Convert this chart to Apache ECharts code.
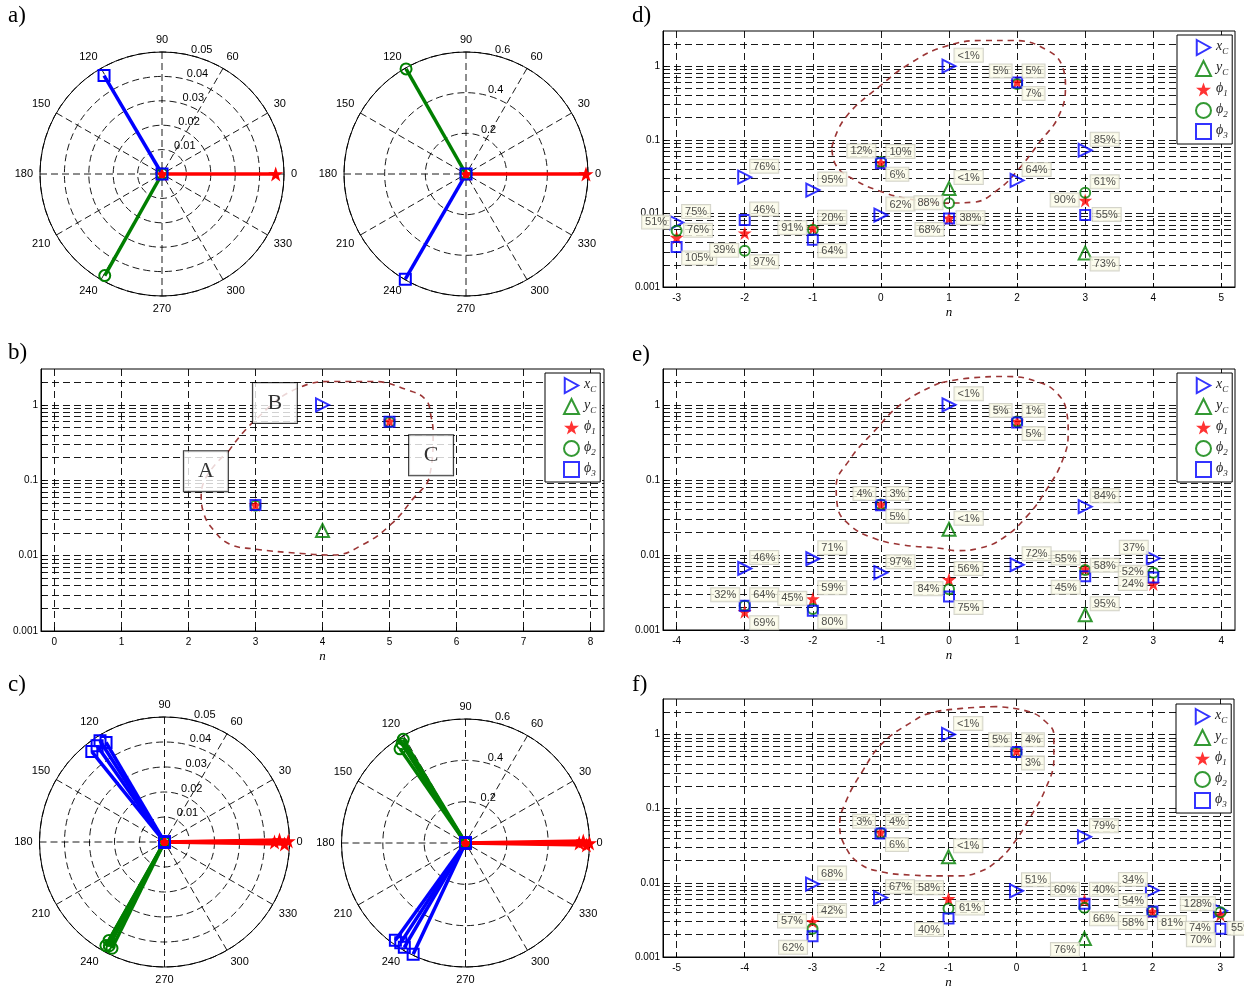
<!DOCTYPE html>
<html lang="en">
<head>
<meta charset="UTF-8">
<title>Phase loci and harmonic ratios</title>
<script src="https://cdn.jsdelivr.net/npm/echarts@6.0.0/dist/echarts.min.js"></script>
<style>
  body { margin: 0; padding: 0; background-color: #ffffff; }
</style>
</head>
<body>
<div id="chart" style="width: 1244px; height: 992px;"></div>
<script>
// polar panels a) and c): [magnitude, angle in degrees]
var aLeftPhi1 = [[0.0466, 0]];
var aLeftPhi2 = [[0.0478, 240.6]];
var aLeftPhi3 = [[0.0468, 120.5]];
var aRightPhi1 = [[0.59, 0]];
var aRightPhi2 = [[0.595, 119.7]];
var aRightPhi3 = [[0.597, 240]];
var cLeftPhi1 = [[0.044, 0], [0.046, 1], [0.048, 359], [0.0495, 0.5]];
var cLeftPhi2 = [[0.0476, 240.5], [0.0474, 243.7], [0.0452, 240.6], [0.047, 242]];
var cLeftPhi3 = [[0.0464, 128.8], [0.048, 122.5], [0.0462, 120.4], [0.047, 125]];
var cRightPhi1 = [[0.55, 0], [0.57, 1], [0.585, 359], [0.6, 0]];
var cRightPhi2 = [[0.6, 122.5], [0.57, 122.6], [0.555, 124.8], [0.585, 121]];
var cRightPhi3 = [[0.58, 234.2], [0.585, 239.6], [0.595, 244.8], [0.575, 237]];

// harmonic panels: n and magnitude per quantity (null = not plotted)
var nB = [3, 4, 5];
var bXC = [null, 1.0, null];
var bYC = [null, 0.0216, null];
var bPhi1 = [0.047, null, 0.61];
var bPhi2 = [0.046, null, 0.59];
var bPhi3 = [0.047, null, 0.6];

var nD = [-3, -2, -1, 0, 1, 2, 3];
var dXC = [0.0075, 0.031, 0.0207, 0.0095, 1.0, 0.028, 0.072];
var dYC = [null, null, null, null, 0.0218, null, 0.0029];
var dPhi1 = [0.0047, 0.0054, 0.0063, 0.049, 0.0086, 0.61, 0.015];
var dPhi2 = [0.0058, 0.0031, 0.006, 0.05, 0.0137, 0.57, 0.019];
var dPhi3 = [0.0035, 0.0081, 0.0044, 0.048, 0.0085, 0.6, 0.0095];

var nE = [-3, -2, -1, 0, 1, 2, 3];
var eXC = [0.0066, 0.0089, 0.0058, 1.0, 0.0074, 0.044, 0.009];
var eYC = [null, null, null, 0.022, null, 0.0016, null];
var ePhi1 = [0.00175, 0.0026, 0.047, 0.0047, 0.6, 0.0065, 0.0041];
var ePhi2 = [0.0021, 0.0019, 0.047, 0.0035, 0.6, 0.0063, 0.0058];
var ePhi3 = [0.0021, 0.0018, 0.046, 0.0028, 0.58, 0.0052, 0.005];

var nF = [-3, -2, -1, 0, 1, 2, 3];
var fXC = [0.0096, 0.0063, 1.0, 0.0078, 0.0416, 0.0079, 0.0042];
var fYC = [null, null, 0.0224, null, 0.00177, null, null];
var fPhi1 = [0.003, 0.048, 0.0061, 0.6, 0.0058, 0.0041, 0.0037];
var fPhi2 = [0.0024, 0.047, 0.0045, 0.57, 0.0046, 0.0041, 0.004];
var fPhi3 = [0.0019, 0.046, 0.0033, 0.58, 0.0052, 0.0041, 0.0024];

// percentage tags: [n, quantity the tag sits next to, text, side]
var dNotes = [
  [-3, 'xC', '75%', 'ne'], [-3, 'xC', '51%', 'w'], [-3, 'phi2', '76%', 'e'], [-3, 'phi3', '105%', 'se'],
  [-2, 'xC', '76%', 'ne'], [-2, 'phi3', '46%', 'ne'], [-2, 'phi2', '39%', 'w'], [-2, 'phi2', '97%', 'se'],
  [-1, 'xC', '95%', 'ne'], [-1, 'phi1', '20%', 'ne'], [-1, 'phi1', '91%', 'w'], [-1, 'phi3', '64%', 'se'],
  [0, 'phi2', '12%', 'nw'], [0, 'phi1', '10%', 'ne'], [0, 'phi3', '6%', 'se'], [0, 'xC', '62%', 'ne'],
  [1, 'xC', '<1%', 'ne'], [1, 'yC', '<1%', 'ne'], [1, 'phi2', '88%', 'w'], [1, 'phi1', '38%', 'e'], [1, 'phi3', '68%', 'sw'],
  [2, 'phi1', '5%', 'nw'], [2, 'phi1', '5%', 'ne'], [2, 'phi3', '7%', 'se'], [2, 'xC', '64%', 'ne'],
  [3, 'xC', '85%', 'ne'], [3, 'phi2', '61%', 'ne'], [3, 'phi1', '90%', 'w'], [3, 'phi3', '55%', 'e'], [3, 'yC', '73%', 'se']
];
var eNotes = [
  [-3, 'xC', '46%', 'ne'], [-3, 'phi2', '32%', 'nw'], [-3, 'phi3', '64%', 'ne'], [-3, 'phi1', '69%', 'se'],
  [-2, 'xC', '71%', 'ne'], [-2, 'phi1', '59%', 'ne'], [-2, 'phi1', '45%', 'w'], [-2, 'phi3', '80%', 'se'],
  [-1, 'phi1', '4%', 'nw'], [-1, 'phi1', '3%', 'ne'], [-1, 'phi3', '5%', 'se'], [-1, 'xC', '97%', 'ne'],
  [0, 'xC', '<1%', 'ne'], [0, 'yC', '<1%', 'ne'], [0, 'phi1', '56%', 'ne'], [0, 'phi2', '84%', 'w'], [0, 'phi3', '75%', 'se'],
  [1, 'xC', '72%', 'ne'], [1, 'phi1', '5%', 'nw'], [1, 'phi1', '1%', 'ne'], [1, 'phi3', '5%', 'se'],
  [2, 'xC', '84%', 'ne'], [2, 'yC', '95%', 'ne'], [2, 'phi1', '55%', 'nw'], [2, 'phi3', '58%', 'ne'], [2, 'phi3', '45%', 'sw'],
  [3, 'xC', '37%', 'nw'], [3, 'phi2', '52%', 'w'], [3, 'phi1', '24%', 'w']
];
var fNotes = [
  [-3, 'xC', '68%', 'ne'], [-3, 'phi1', '57%', 'w'], [-3, 'phi1', '42%', 'ne'], [-3, 'phi3', '62%', 'sw'],
  [-2, 'phi1', '3%', 'nw'], [-2, 'phi1', '4%', 'ne'], [-2, 'phi3', '6%', 'se'], [-2, 'xC', '67%', 'ne'],
  [-1, 'xC', '<1%', 'ne'], [-1, 'yC', '<1%', 'ne'], [-1, 'phi1', '58%', 'nw'], [-1, 'phi2', '61%', 'e'], [-1, 'phi3', '40%', 'sw'],
  [0, 'phi1', '5%', 'nw'], [0, 'phi1', '4%', 'ne'], [0, 'phi3', '3%', 'se'], [0, 'xC', '51%', 'ne'],
  [1, 'xC', '79%', 'ne'], [1, 'phi1', '60%', 'nw'], [1, 'phi1', '40%', 'ne'], [1, 'phi2', '66%', 'se'], [1, 'yC', '76%', 'sw'],
  [2, 'xC', '34%', 'nw'], [2, 'phi1', '54%', 'nw'], [2, 'phi3', '58%', 'sw'], [2, 'phi3', '81%', 'se'],
  [3, 'phi1', '128%', 'nw'], [3, 'phi3', '74%', 'w'], [3, 'phi3', '70%', 'sw'], [3, 'phi3', '55%', 'e']
];

// hand-drawn dashed loops, [n, magnitude]
var bLoop = [[2.60, 0.244], [2.97, 0.599], [3.63, 1.67], [4.21, 2.05], [4.74, 2.05], [5.27, 1.58], [5.54, 1.17],
  [5.62, 0.70], [5.65, 0.42], [5.60, 0.117], [5.33, 0.054], [5.03, 0.0265], [4.62, 0.0143], [4.15, 0.0102],
  [3.68, 0.0107], [2.97, 0.0123], [2.61, 0.0143], [2.38, 0.0216], [2.23, 0.036], [2.19, 0.0665], [2.60, 0.244]];
var dLoop = [[-0.72, 0.079], [-0.53, 0.195], [0, 0.55], [0.43, 1.09], [0.94, 1.85], [1.53, 2.23], [1.95, 2.23],
  [2.45, 1.63], [2.67, 0.96], [2.71, 0.51], [2.60, 0.20], [2.35, 0.098], [2.01, 0.0386], [1.71, 0.0207],
  [1.36, 0.0142], [0.94, 0.0138], [0.43, 0.0156], [0.03, 0.0194], [-0.38, 0.0283], [-0.66, 0.045], [-0.72, 0.079]];
var eLoop = [[-0.137, 1.95], [-0.68, 1.06], [-1.12, 0.423], [-1.46, 0.185], [-1.656, 0.0814], [-1.637, 0.044],
  [-1.46, 0.0251], [-1.12, 0.0169], [-0.68, 0.0136], [-0.137, 0.0123], [0.11, 0.0114], [0.45, 0.0123],
  [0.79, 0.0167], [1.14, 0.0324], [1.43, 0.0736], [1.67, 0.185], [1.75, 0.423], [1.73, 0.782], [1.58, 1.445],
  [1.285, 2.05], [0.844, 2.38], [0.30, 2.27], [-0.137, 1.95]];
var fLoop = [[-0.30, 2.37], [-0.80, 2.24], [-1.28, 1.92], [-1.534, 1.48], [-1.975, 0.756], [-2.27, 0.314],
  [-2.51, 0.124], [-2.60, 0.0604], [-2.53, 0.0324], [-2.31, 0.0182], [-1.975, 0.014], [-1.534, 0.0127],
  [-1.137, 0.0124], [-0.84, 0.0124], [-0.55, 0.014], [-0.30, 0.0191], [-0.06, 0.0324], [0.19, 0.0735],
  [0.43, 0.187], [0.55, 0.474], [0.55, 0.98], [0.43, 1.48], [0.19, 2.02], [-0.30, 2.37]];

// boxed letters in b): [n, magnitude, text]
var bBoxes = [[2.26, 0.132, 'A'], [3.29, 1.06, 'B'], [5.62, 0.215, 'C']];

// tick values
var decadeTicks = [0.001, 0.01, 0.1, 1];
var bTicks = [0, 1, 2, 3, 4, 5, 6, 7, 8];
var dTicks = [-3, -2, -1, 0, 1, 2, 3, 4, 5];
var eTicks = [-4, -3, -2, -1, 0, 1, 2, 3, 4];
var fTicks = [-5, -4, -3, -2, -1, 0, 1, 2, 3];

var SANS = 'Liberation Sans, Arial, sans-serif';
var SERIF = 'Liberation Serif, Times New Roman, serif';
var BLUE = '#0000ff', GREEN = '#007f00', RED = '#ff0000', LOOP = '#9b3535';
var STAR = 'path://M50,2 L61.8,36.3 L97.6,36.3 L68.6,57.6 L79.4,91.9 L50,70.6 L20.6,91.9 L31.4,57.6 L2.4,36.3 L38.2,36.3 Z';
var RIGHT_TRI = 'path://M0,0 L90,50 L0,100 Z';
var GRID_LINE = { color: '#000', width: 0.9, type: [7, 4] };

var KEYS = ['xC', 'yC', 'phi1', 'phi2', 'phi3'];
var MARK = {
  xC: { symbol: 'triangle', size: 13, rotate: -90, color: BLUE, icon: RIGHT_TRI },
  yC: { symbol: 'triangle', size: 13, rotate: 0, color: GREEN, icon: 'triangle' },
  phi1: { symbol: STAR, size: 14, rotate: 0, color: RED, filled: true, icon: STAR },
  phi2: { symbol: 'circle', size: 10, rotate: 0, color: GREEN, icon: 'circle' },
  phi3: { symbol: 'rect', size: 10, rotate: 0, color: BLUE, icon: 'rect' }
};
var LEGEND_TEXT = {
  xC: '{i|x}{s|C}', yC: '{i|y}{s|C}',
  phi1: '{i|ϕ}{s|1}', phi2: '{i|ϕ}{s|2}', phi3: '{i|ϕ}{s|3}'
};
var SIDES = {
  ne: { position: [6, -4], align: 'left', verticalAlign: 'bottom' },
  nw: { position: [-5, -4], align: 'right', verticalAlign: 'bottom' },
  se: { position: [6, 5], align: 'left', verticalAlign: 'top' },
  sw: { position: [-5, 5], align: 'right', verticalAlign: 'top' },
  e: { position: [8, 0], align: 'left', verticalAlign: 'middle' },
  w: { position: [-6, 0], align: 'right', verticalAlign: 'middle' }
};

function markStyle(m) {
  if (m.filled) return { color: m.color };
  return { color: 'rgba(0,0,0,0)', borderColor: m.color, borderWidth: 2 };
}

var polars = [], angleAxes = [], radiusAxes = [];
var grids = [], xAxes = [], yAxes = [], legends = [];
var series = [];

function addPolar(center, radius, rmax, step, phases) {
  var k = polars.length;
  polars.push({ center: center, radius: radius });
  polars.push({ center: center, radius: radius });
  angleAxes.push({
    polarIndex: k, type: 'value', min: 0, max: 360, interval: 30, startAngle: 0, clockwise: false,
    axisLine: { lineStyle: { color: '#000', width: 1 } },
    axisTick: { show: false },
    axisLabel: { margin: 7, fontSize: 11, color: '#000', fontFamily: SANS,
      formatter: function (v) { return v === 360 ? '' : String(v); } },
    splitLine: { show: true, lineStyle: GRID_LINE }
  });
  radiusAxes.push({
    polarIndex: k, type: 'value', min: 0, max: rmax, interval: step,
    axisLine: { show: false }, axisTick: { show: false }, axisLabel: { show: false },
    splitLine: { show: true, lineStyle: GRID_LINE }
  });
  // second, invisible polar only carries the magnitude labels along the 80 degree ray
  angleAxes.push({ polarIndex: k + 1, type: 'value', min: 0, max: 360, startAngle: 80, clockwise: false, show: false });
  radiusAxes.push({
    polarIndex: k + 1, type: 'value', min: 0, max: rmax, interval: step,
    axisLine: { show: false }, axisTick: { show: false }, splitLine: { show: false },
    axisLabel: { show: true, margin: -8, fontSize: 11, color: '#000', fontFamily: SANS,
      align: 'left', verticalAlign: 'bottom',
      formatter: function (v) { return v === 0 ? '' : String(+v.toFixed(3)); } }
  });
  phases.forEach(function (ph) {
    var m = MARK[ph[0]];
    ph[1].forEach(function (p) {
      series.push({
        type: 'line', coordinateSystem: 'polar', polarIndex: k,
        data: [[0, p[1]], [p[0], p[1]]],
        symbol: m.symbol, symbolSize: m.size + 1, showSymbol: true,
        lineStyle: { color: m.color, width: 3.5 },
        itemStyle: markStyle(m), silent: true, z: 3
      });
    });
  });
}

function addPanel(box, range, ticks, nArr, vals, notes, loop, legendPos) {
  var g = grids.length;
  grids.push({ left: box[0], top: box[1], width: box[2], height: box[3], show: true,
    borderColor: '#000', borderWidth: 1, backgroundColor: 'transparent' });
  xAxes.push({
    gridIndex: g, type: 'value', min: range[0], max: range[1],
    axisLine: { onZero: false, lineStyle: { color: '#000' } },
    axisTick: { inside: true, length: 4, customValues: ticks, lineStyle: { color: '#000' } },
    axisLabel: { customValues: ticks, fontSize: 10, color: '#000', fontFamily: SANS, margin: 6 },
    splitLine: { show: true, lineStyle: GRID_LINE },
    name: 'n', nameLocation: 'middle', nameGap: 19,
    nameTextStyle: { fontFamily: SERIF, fontStyle: 'italic', fontSize: 13, color: '#000' }
  });
  yAxes.push({
    gridIndex: g, type: 'log', logBase: 10, min: 0.001, max: 3,
    axisLine: { onZero: false, lineStyle: { color: '#000' } },
    axisTick: { inside: true, length: 4, customValues: decadeTicks, lineStyle: { color: '#000' } },
    minorTick: { show: true, splitNumber: 9, length: 2, lineStyle: { color: '#000' } },
    axisLabel: { customValues: decadeTicks, fontSize: 10, color: '#000', fontFamily: SANS, margin: 3,
      formatter: function (v) {
        var r = +v.toPrecision(3);
        return decadeTicks.indexOf(r) >= 0 ? String(r) : '';
      } },
    splitLine: { show: true, lineStyle: GRID_LINE },
    minorSplitLine: { show: true, lineStyle: GRID_LINE }
  });
  series.push({
    type: 'line', xAxisIndex: g, yAxisIndex: g, data: loop, smooth: 0.45,
    symbol: 'none', silent: true, z: 2,
    lineStyle: { color: LOOP, width: 1.6, type: [6, 5] }
  });
  KEYS.forEach(function (key) {
    var m = MARK[key];
    var data = [];
    nArr.forEach(function (n, i) { if (vals[key][i] != null) data.push([n, vals[key][i]]); });
    series.push({
      name: key, type: 'scatter', xAxisIndex: g, yAxisIndex: g, data: data,
      symbol: m.symbol, symbolSize: m.size, symbolRotate: m.rotate,
      itemStyle: markStyle(m), z: 3
    });
  });
  if (notes) {
    series.push({
      type: 'scatter', xAxisIndex: g, yAxisIndex: g, symbolSize: 1, silent: true, z: 6,
      itemStyle: { color: 'rgba(0,0,0,0)' },
      label: { show: true, formatter: '{b}', fontFamily: SANS, fontSize: 11, color: '#222',
        backgroundColor: '#fbfbe9', borderColor: '#c9c9bd', borderWidth: 1,
        padding: [1, 3, 0, 3], lineHeight: 12 },
      data: notes.map(function (nt) {
        var i = nArr.indexOf(nt[0]);
        return { name: nt[2], value: [nt[0], vals[nt[1]][i]], label: Object.assign({}, SIDES[nt[3]]) };
      })
    });
  }
  legends.push({
    data: KEYS.map(function (key) {
      return { name: key, icon: MARK[key].icon, itemStyle: markStyle(MARK[key]) };
    }),
    orient: 'vertical', left: legendPos[0], top: legendPos[1],
    padding: [4, 4, 4, 18], itemGap: 4, itemWidth: 15, itemHeight: 15,
    backgroundColor: '#fff', borderColor: '#000', borderWidth: 1, selectedMode: false,
    formatter: function (name) { return LEGEND_TEXT[name]; },
    textStyle: {
      rich: {
        i: { fontFamily: SERIF, fontStyle: 'italic', fontSize: 14, color: '#222', verticalAlign: 'bottom', padding: [0, 0, 3, 0] },
        s: { fontFamily: SERIF, fontStyle: 'italic', fontSize: 9, color: '#222', verticalAlign: 'bottom' }
      }
    }
  });
  return g;
}

addPolar([162, 174], 122, 0.05, 0.01, [['phi1', aLeftPhi1], ['phi2', aLeftPhi2], ['phi3', aLeftPhi3]]);
addPolar([466, 174], 122, 0.6, 0.2, [['phi1', aRightPhi1], ['phi2', aRightPhi2], ['phi3', aRightPhi3]]);
addPolar([164.5, 842], 125, 0.05, 0.01, [['phi1', cLeftPhi1], ['phi2', cLeftPhi2], ['phi3', cLeftPhi3]]);
addPolar([465.5, 843], 124, 0.6, 0.2, [['phi1', cRightPhi1], ['phi2', cRightPhi2], ['phi3', cRightPhi3]]);

var gB = addPanel([41, 369, 563, 262], [-0.2, 8.2], bTicks, nB,
  { xC: bXC, yC: bYC, phi1: bPhi1, phi2: bPhi2, phi3: bPhi3 }, null, bLoop, [545, 373]);
addPanel([663, 31, 572, 256], [-3.2, 5.2], dTicks, nD,
  { xC: dXC, yC: dYC, phi1: dPhi1, phi2: dPhi2, phi3: dPhi3 }, dNotes, dLoop, [1177, 35]);
addPanel([663, 369, 572, 261], [-4.2, 4.2], eTicks, nE,
  { xC: eXC, yC: eYC, phi1: ePhi1, phi2: ePhi2, phi3: ePhi3 }, eNotes, eLoop, [1177, 373]);
addPanel([663, 699, 571, 258], [-5.2, 3.2], fTicks, nF,
  { xC: fXC, yC: fYC, phi1: fPhi1, phi2: fPhi2, phi3: fPhi3 }, fNotes, fLoop, [1176, 704]);

series.push({
  type: 'scatter', xAxisIndex: gB, yAxisIndex: gB, symbolSize: 1, silent: true, z: 7,
  itemStyle: { color: 'rgba(0,0,0,0)' },
  label: { show: true, position: 'inside', formatter: '{b}', fontFamily: SERIF, fontSize: 22, color: '#000',
    backgroundColor: '#fff', borderColor: '#000', borderWidth: 1, width: 44, height: 40, lineHeight: 40,
    align: 'center', verticalAlign: 'middle' },
  data: bBoxes.map(function (b) { return { name: b[2], value: [b[0], b[1]] }; })
});

function panelLetter(text, x, y) {
  return { type: 'text', left: x, top: y, silent: true,
    style: { text: text, font: '23px ' + SERIF, fill: '#000' } };
}

var chart = echarts.init(document.getElementById('chart'));
chart.setOption({
  animation: false,
  backgroundColor: '#fff',
  polar: polars,
  angleAxis: angleAxes,
  radiusAxis: radiusAxes,
  grid: grids,
  xAxis: xAxes,
  yAxis: yAxes,
  legend: legends,
  series: series,
  graphic: [
    panelLetter('a)', 8, 4), panelLetter('b)', 8, 341), panelLetter('c)', 8, 673),
    panelLetter('d)', 632, 4), panelLetter('e)', 632, 343), panelLetter('f)', 632, 673)
  ]
});
</script>
</body>
</html>
